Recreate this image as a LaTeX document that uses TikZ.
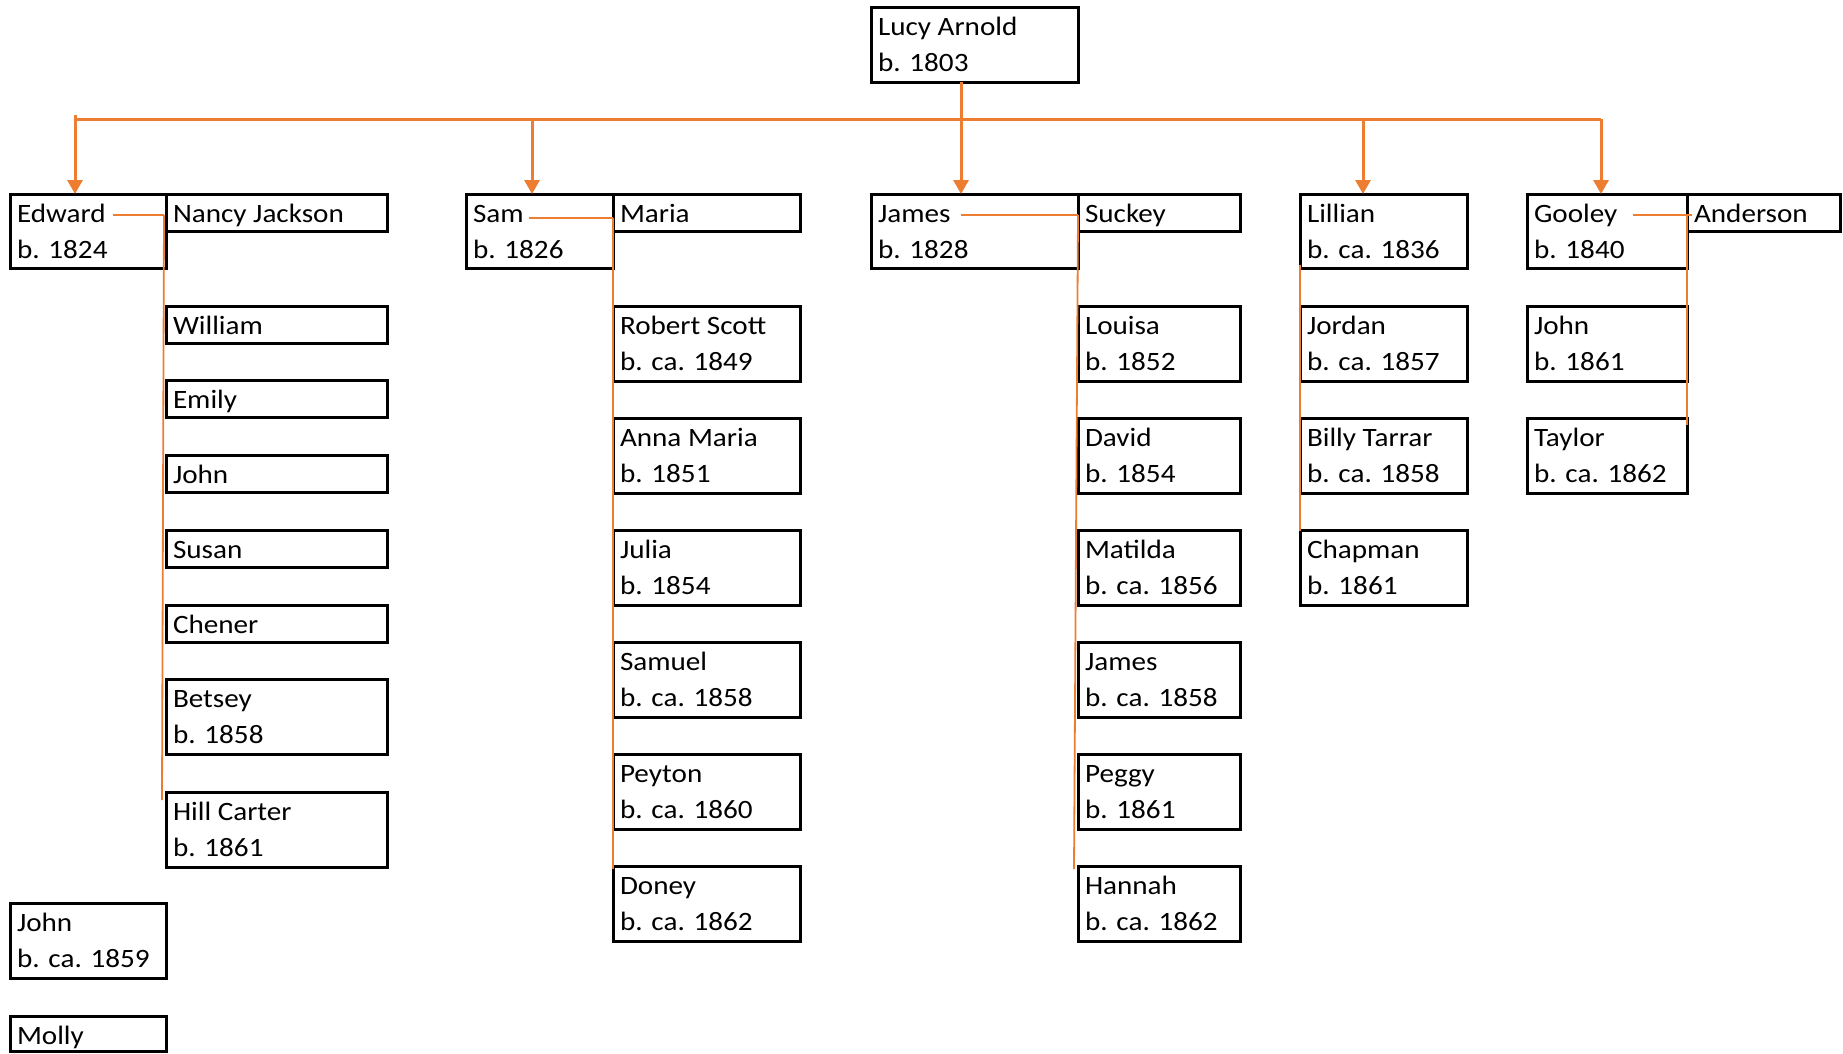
\documentclass[tikz,border=0pt]{standalone}
\usepackage{fontspec}
\setmainfont{Carlito}[FakeStretch=1.1]
\usetikzlibrary{arrows.meta}
\definecolor{accent}{HTML}{ED7D31}

\tikzset{
  pbox/.style={draw=black, line width=3pt, rectangle, inner sep=0pt, outer sep=0pt,
               anchor=north west, fill=white},
  ptxt/.style={anchor=base west, inner sep=0pt, outer sep=0pt,
               font=\fontsize{26.5}{36}\selectfont},
  bus/.style={draw=accent, line width=3pt},
  drop/.style={draw=accent, line width=3pt, -{Triangle[length=14pt,width=15pt]}},
  spouse/.style={draw=accent, line width=2.4pt},
  kin/.style={draw=accent, line width=1.8pt},
}

% \pbox{name}{x}{y}{width}{height}{first line}{second line}
\newcommand\pbox[7]{%
  \node[pbox, minimum width=#4pt, minimum height=#5pt] (#1) at (#2,#3) {};
  \node[ptxt] (#1-a) at ([xshift=7pt,yshift=-28pt]#1.north west) {#6};
  \if\relax\detokenize{#7}\relax\else
    \node[ptxt] (#1-b) at ([xshift=7pt,yshift=-64pt]#1.north west) {#7};
  \fi
}

\begin{document}
\begin{tikzpicture}[x=1pt, y=-1pt]
\useasboundingbox (0,0) rectangle (1843,1053);

% root
\pbox{lucy}{871}{7}{207}{75}{Lucy Arnold}{b. 1803}

% Edward and Nancy Jackson
\pbox{edward}{10}{194}{156}{74}{Edward}{b. 1824}
\pbox{nancy}{166}{194}{221}{37}{Nancy Jackson}{}
\pbox{william}{166}{306}{221}{37}{William}{}
\pbox{emily}{166}{380}{221}{37}{Emily}{}
\pbox{johnE}{166}{455}{221}{37}{John}{}
\pbox{susan}{166}{530}{221}{37}{Susan}{}
\pbox{chener}{166}{605}{221}{37}{Chener}{}
\pbox{betsey}{166}{679}{221}{75}{Betsey}{b. 1858}
\pbox{hill}{166}{792}{221}{75}{Hill Carter}{b. 1861}
\pbox{johnL}{10}{903}{156}{75}{John}{b. ca. 1859}
\pbox{molly}{10}{1016}{156}{35}{Molly}{}

% Sam and Maria
\pbox{sam}{466}{194}{147}{74}{Sam}{b. 1826}
\pbox{maria}{613}{194}{187}{37}{Maria}{}
\pbox{robert}{613}{306}{187}{75}{Robert Scott}{b. ca. 1849}
\pbox{anna}{613}{418}{187}{75}{Anna Maria}{b. 1851}
\pbox{julia}{613}{530}{187}{75}{Julia}{b. 1854}
\pbox{samuel}{613}{642}{187}{75}{Samuel}{b. ca. 1858}
\pbox{peyton}{613}{754}{187}{75}{Peyton}{b. ca. 1860}
\pbox{doney}{613}{866}{187}{75}{Doney}{b. ca. 1862}

% James and Suckey
\pbox{james}{871}{194}{207}{74}{James}{b. 1828}
\pbox{suckey}{1078}{194}{162}{37}{Suckey}{}
\pbox{louisa}{1078}{306}{162}{75}{Louisa}{b. 1852}
\pbox{david}{1078}{418}{162}{75}{David}{b. 1854}
\pbox{matilda}{1078}{530}{162}{75}{Matilda}{b. ca. 1856}
\pbox{jamesJ}{1078}{642}{162}{75}{James}{b. ca. 1858}
\pbox{peggy}{1078}{754}{162}{75}{Peggy}{b. 1861}
\pbox{hannah}{1078}{866}{162}{75}{Hannah}{b. ca. 1862}

% Lillian
\pbox{lillian}{1300}{194}{167}{74}{Lillian}{b. ca. 1836}
\pbox{jordan}{1300}{306}{167}{75}{Jordan}{b. ca. 1857}
\pbox{billy}{1300}{418}{167}{75}{Billy Tarrar}{b. ca. 1858}
\pbox{chapman}{1300}{530}{167}{75}{Chapman}{b. 1861}

% Gooley and Anderson
\pbox{gooley}{1527}{194}{160}{74}{Gooley}{b. 1840}
\pbox{anderson}{1687}{194}{153}{37}{Anderson}{}
\pbox{johnG}{1527}{306}{160}{75}{John}{b. 1861}
\pbox{taylor}{1527}{418}{160}{75}{Taylor}{b. ca. 1862}

% drop points on the bus line
\coordinate (dE) at (75,119);
\coordinate (dEtop) at (75,115);
\coordinate (dS) at (532,119);
\coordinate (dJ) at (961,119);
\coordinate (dL) at (1363,119);
\coordinate (dG) at (1601,119);

\draw[bus] (dE) -- (dG);
\draw[drop] (dEtop) -- (dE |- edward.north);
\draw[drop] (dS) -- (dS |- sam.north);
\draw[drop] (lucy.south -| dJ) -- (dJ |- james.north);
\draw[drop] (dL) -- (dL |- lillian.north);
\draw[drop] (dG) -- (dG |- gooley.north);

% couples and their children
\coordinate (eS) at (113,215);
\coordinate (eJ) at (164,215);
\coordinate (eEnd) at (162,800);
\draw[spouse] (eS) -- (eJ);
\draw[kin] (eJ) -- (eEnd);

\coordinate (sS) at (529,218);
\coordinate (sJ) at (613,218);
\coordinate (sEnd) at (613,869);
\draw[spouse] (sS) -- (sJ);
\draw[kin] (sJ) -- (sEnd);

\coordinate (jS) at (961,215);
\coordinate (jJ) at (1078,215);
\coordinate (jEnd) at (1074,869);
\draw[spouse] (jS) -- (jJ);
\draw[kin] (jJ) -- (jEnd);

\coordinate (lTop) at (1300,265);
\coordinate (lEnd) at (1300,531);
\draw[kin] (lTop) -- (lEnd);

\coordinate (gS) at (1633,215);
\coordinate (gE) at (1692,215);
\coordinate (gJ) at (1687,215);
\coordinate (gEnd) at (1687,425);
\draw[spouse] (gS) -- (gE);
\draw[spouse] (gJ) -- (gEnd);
\end{tikzpicture}
\end{document}
